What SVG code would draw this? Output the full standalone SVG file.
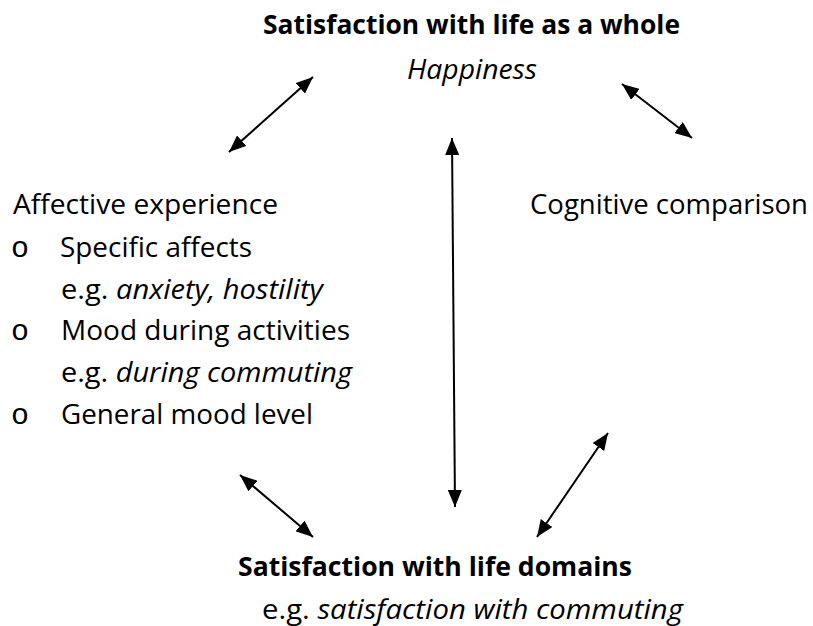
<svg xmlns="http://www.w3.org/2000/svg" width="813" height="626" viewBox="0 0 813 626">
<defs>
<style>
text{font-family:"Open Sans","Noto Sans",sans-serif;font-size:27px;fill:#000}
.b{font-weight:bold}
.i{font-style:italic}
.o{font-family:"Liberation Mono",monospace;font-size:30px}
.c line{stroke:#000;stroke-width:2;marker-start:url(#ah);marker-end:url(#ah)}
</style>
<marker id="ah" viewBox="0 0 17 14" refX="17" refY="7" markerWidth="17" markerHeight="14" markerUnits="userSpaceOnUse" orient="auto-start-reverse">
<path d="M0,0 L17,7 L0,14 z" fill="#000"/>
</marker>
</defs>
<rect width="813" height="626" fill="#fff"/>
<g id="whole">
<text class="b" x="263" y="34" textLength="417" lengthAdjust="spacingAndGlyphs">Satisfaction with life as a whole</text>
<text class="i" x="407" y="79" textLength="130" lengthAdjust="spacingAndGlyphs">Happiness</text>
</g>
<g id="affective">
<text x="13" y="214" textLength="265" lengthAdjust="spacingAndGlyphs">Affective experience</text>
<text class="o" x="11" y="257">o</text>
<text x="60" y="257" textLength="192" lengthAdjust="spacingAndGlyphs">Specific affects</text>
<text x="61" y="299" textLength="262" lengthAdjust="spacingAndGlyphs">e.g. <tspan class="i">anxiety, hostility</tspan></text>
<text class="o" x="11" y="340">o</text>
<text x="61" y="340" textLength="289" lengthAdjust="spacingAndGlyphs">Mood during activities</text>
<text x="61" y="382" textLength="291" lengthAdjust="spacingAndGlyphs">e.g. <tspan class="i">during commuting</tspan></text>
<text class="o" x="11" y="424">o</text>
<text x="61" y="424" textLength="252" lengthAdjust="spacingAndGlyphs">General mood level</text>
</g>
<g id="cognitive">
<text x="530" y="214" textLength="278" lengthAdjust="spacingAndGlyphs">Cognitive comparison</text>
</g>
<g id="domains">
<text class="b" x="238" y="576" textLength="394" lengthAdjust="spacingAndGlyphs">Satisfaction with life domains</text>
<text x="262" y="619" textLength="421" lengthAdjust="spacingAndGlyphs">e.g. <tspan class="i">satisfaction with commuting</tspan></text>
</g>
<g id="connectors" class="c">
<line x1="229" y1="152" x2="313" y2="77"/>
<line x1="622" y1="84" x2="692" y2="138"/>
<line x1="452" y1="138" x2="455" y2="507"/>
<line x1="240" y1="475" x2="313" y2="537"/>
<line x1="608" y1="433" x2="537" y2="537"/>
</g>
</svg>
